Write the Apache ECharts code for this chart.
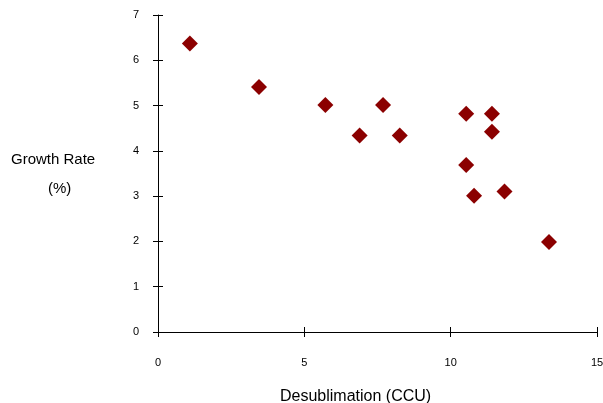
<!DOCTYPE html>
<html><head><meta charset="utf-8">
<script src="https://cdn.jsdelivr.net/npm/echarts@6/dist/echarts.min.js"></script>
<style>html,body{margin:0;padding:0;background:#fff}#c{width:603px;height:403px}</style>
</head><body><div id="c"></div>
<script>
const xValues = [1.09, 3.45, 5.72, 6.89, 7.69, 8.26, 10.53, 11.41, 11.41, 10.53, 10.80, 11.84, 13.36];
const yValues = [6.37, 5.41, 5.01, 4.34, 5.01, 4.34, 4.82, 4.82, 4.42, 3.69, 3.01, 3.10, 1.99];
const xTitle = 'Desublimation (CCU)';
const yTitle1 = 'Growth Rate';
const yTitle2 = '(%)';

const chart = echarts.init(document.getElementById('c'), null, {renderer: 'canvas'});
const font = 'Liberation Sans, Arial, sans-serif';
const lineStyle = {color: '#000', width: 1};
chart.setOption({
  animation: false,
  grid: {left: 158, right: 6, top: 15, bottom: 71, containLabel: false, outerBoundsMode: 'none'},
  xAxis: [
    {type: 'value', min: 0, max: 15, interval: 5, splitLine: {show: false},
     axisLine: {onZero: false, lineStyle}, axisTick: {length: 5, lineStyle},
     axisLabel: {margin: 25, color: '#000', fontSize: 11, fontFamily: font}},
    {type: 'value', min: 0, max: 15, interval: 5, position: 'bottom', splitLine: {show: false},
     axisLine: {show: false}, axisTick: {inside: true, length: 5, lineStyle},
     axisLabel: {show: false}}
  ],
  yAxis: [
    {type: 'value', min: 0, max: 7, interval: 1, splitLine: {show: false},
     axisLine: {onZero: false, lineStyle}, axisTick: {length: 5, lineStyle},
     axisLabel: {margin: 19, color: '#000', fontSize: 11, fontFamily: font}},
    {type: 'value', min: 0, max: 7, interval: 1, position: 'left', splitLine: {show: false},
     axisLine: {show: false}, axisTick: {inside: true, length: 5, lineStyle},
     axisLabel: {show: false}}
  ],
  series: [{
    type: 'scatter', symbol: 'diamond', symbolSize: 16,
    itemStyle: {color: '#8B0000', opacity: 1},
    data: xValues.map((x, i) => [x, yValues[i]])
  }],
  graphic: [
    {type: 'text', left: 11, top: 152, style: {text: yTitle1, fontSize: 15, fontFamily: font, fill: '#000'}},
    {type: 'text', left: 48, top: 181, style: {text: yTitle2, fontSize: 15, fontFamily: font, fill: '#000'}},
    {type: 'text', left: 280, top: 389, style: {text: xTitle, fontSize: 16, fontFamily: font, fill: '#000'}}
  ]
});
</script></body></html>
